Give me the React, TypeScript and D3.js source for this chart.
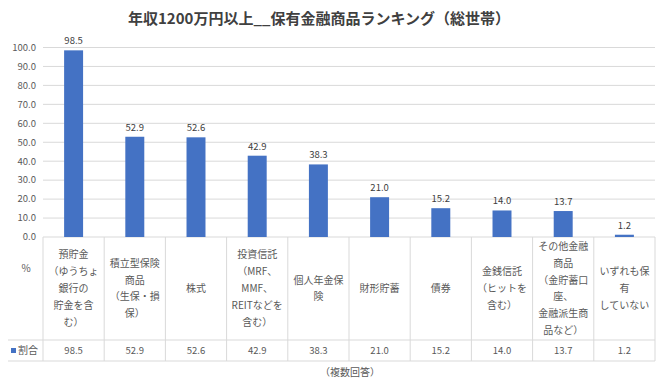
import React from "react";
import * as d3 from "d3";

const title = "年収1200万円以上__保有金融商品ランキング（総世帯）";
const categories: string[][] = [
  ["預貯金", "（ゆうちょ", "銀行の", "貯金を含", "む）"],
  ["積立型保険", "商品", "（生保・損", "保）"],
  ["株式"],
  ["投資信託", "（MRF、", "MMF、", "REITなどを", "含む）"],
  ["個人年金保", "険"],
  ["財形貯蓄"],
  ["債券"],
  ["金銭信託", "（ヒットを", "含む）"],
  ["その他金融", "商品", "（金貯蓄口", "座、", "金融派生商", "品など）"],
  ["いずれも保", "有", "していない"],
];
const values = [98.5, 52.9, 52.6, 42.9, 38.3, 21.0, 15.2, 14.0, 13.7, 1.2];
const yTicks = [0, 10, 20, 30, 40, 50, 60, 70, 80, 90, 100];
const seriesName = "割合";
const unitLabel = "%";
const note = "（複数回答）";

const W = 660;
const H = 381;
const left = 43;
const right = 655;
const y0 = 237;
const y100 = 47.5;
const headerBottom = 340;
const tableBottom = 361;
const font = "'Noto Sans CJK JP', 'Noto Sans', sans-serif";
const grid = "#d9d9d9";
const textCol = "#595959";

export default function App() {
  const x = d3
    .scaleBand<number>()
    .domain(d3.range(values.length))
    .range([left, right])
    .paddingInner(0)
    .paddingOuter(0);
  const y = d3.scaleLinear().domain([0, 100]).range([y0, y100]);
  const bw = x.bandwidth() * 0.31;
  const lineH = 16.8;
  const headerMid = (y0 + headerBottom) / 2;

  return (
    <svg
      width={W}
      height={H}
      style={{ position: "absolute", left: 0, top: 0, background: "#fff" }}
      fontFamily={font}
    >
      <rect width={W} height={H} fill="#fff" />
      <text
        x={319}
        y={24}
        textAnchor="middle"
        fontSize={15}
        fontWeight="bold"
        fill="#404040"
      >
        {title}
      </text>
      {yTicks.map((t) => (
        <g key={t}>
          {t > 0 && (
            <line x1={left} x2={right} y1={y(t)} y2={y(t)} stroke={grid} strokeWidth={1} />
          )}
          <text
            x={36}
            y={y(t)}
            dy="0.35em"
            textAnchor="end"
            fontSize={9.5}
            fill={textCol}
          >
            {d3.format(".1f")(t)}
          </text>
        </g>
      ))}
      {/* table lines */}
      <line x1={left} x2={right} y1={y0} y2={y0} stroke={grid} />
      <line x1={8} x2={right} y1={headerBottom} y2={headerBottom} stroke={grid} />
      <line x1={8} x2={right} y1={tableBottom} y2={tableBottom} stroke={grid} />
      {d3.range(values.length + 1).map((i) => {
        const xx = i < values.length ? x(i)! : right;
        return (
          <line key={i} x1={xx} x2={xx} y1={y0} y2={tableBottom} stroke={grid} />
        );
      })}
      {values.map((v, i) => {
        const cx = x(i)! + x.bandwidth() / 2;
        return (
          <g key={i}>
            <rect x={cx - bw / 2} y={y(v)} width={bw} height={y0 - y(v)} fill="#4472C4" />
            <text x={cx} y={y(v) - 6} textAnchor="middle" fontSize={9.5} fill="#404040">
              {d3.format(".1f")(v)}
            </text>
            {categories[i].map((ln, j) => (
              <text
                key={j}
                x={cx}
                y={headerMid + (j - (categories[i].length - 1) / 2) * lineH}
                dy="0.35em"
                textAnchor="middle"
                fontSize={10}
                fill={textCol}
              >
                {ln}
              </text>
            ))}
            <text
              x={cx}
              y={(headerBottom + tableBottom) / 2}
              dy="0.35em"
              textAnchor="middle"
              fontSize={9.5}
              fill={textCol}
            >
              {d3.format(".1f")(v)}
            </text>
          </g>
        );
      })}
      <text x={26} y={268} dy="0.35em" textAnchor="middle" fontSize={10} fill={textCol}>
        {unitLabel}
      </text>
      <rect x={11} y={348} width={5} height={5} fill="#4472C4" />
      <text x={18} y={(headerBottom + tableBottom) / 2} dy="0.35em" fontSize={10} fill={textCol}>
        {seriesName}
      </text>
      <text x={350} y={372} dy="0.35em" textAnchor="middle" fontSize={10} fill={textCol}>
        {note}
      </text>
    </svg>
  );
}
